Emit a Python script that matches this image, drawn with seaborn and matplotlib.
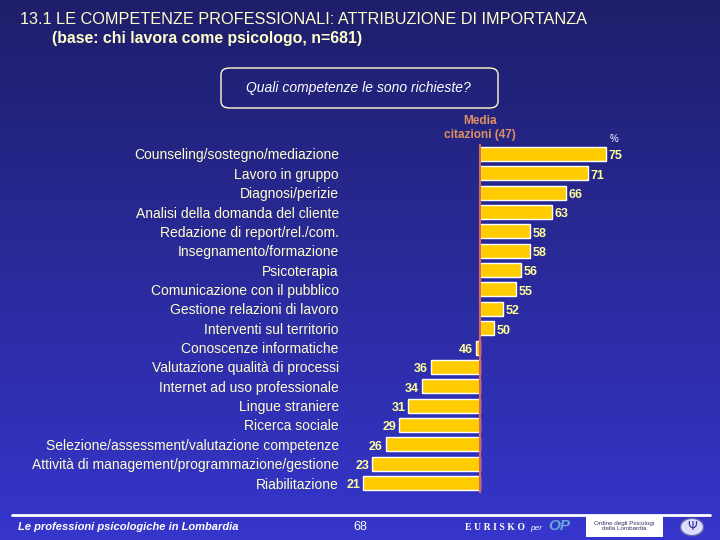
import numpy as np
import pandas as pd
import matplotlib
matplotlib.use("Agg")
import matplotlib.pyplot as plt
from matplotlib.patches import FancyBboxPatch, Rectangle, Circle
import seaborn as sns

# dati (% citazioni)
competenze = [
    "Counseling/sostegno/mediazione",
    "Lavoro in gruppo",
    "Diagnosi/perizie",
    "Analisi della domanda del cliente",
    "Redazione di report/rel./com.",
    "Insegnamento/formazione",
    "Psicoterapia",
    "Comunicazione con il pubblico",
    "Gestione relazioni di lavoro",
    "Interventi sul territorio",
    "Conoscenze informatiche",
    "Valutazione qualità di processi",
    "Internet ad uso professionale",
    "Lingue straniere",
    "Ricerca sociale",
    "Selezione/assessment/valutazione competenze",
    "Attività di management/programmazione/gestione",
    "Riabilitazione",
]
percentuali = [75, 71, 66, 63, 58, 58, 56, 55, 52, 50, 46, 36, 34, 31, 29, 26, 23, 21]
media = 47

TXT_YELLOW = "#ffffcc"
NUM_YELLOW = "#ffff99"
BAR_YELLOW = "#ffcc00"
MEDIA_COL = "#e09060"

sns.set_style("white")
plt.rcParams["font.family"] = ["Liberation Sans", "DejaVu Sans"]

W, H = 720, 540


def px(x, y):
    """pixel (dall'alto a sinistra) -> coordinate figura"""
    return x / W, 1 - y / H


fig = plt.figure(figsize=(7.2, 5.4), dpi=100)

# sfondo sfumato blu
bg = fig.add_axes([0, 0, 1, 1])
grad = np.linspace(0, 1, 256)[:, None, None]
top = np.array([0.12, 0.12, 0.42])
bottom = np.array([0.21, 0.21, 0.80])
img = top + (bottom - top) * grad
bg.imshow(img, aspect="auto", extent=[0, 1, 0, 1], origin="upper")
bg.set_axis_off()

# grafico a barre centrato sulla media
ax = fig.add_axes([336 / W, 1 - 492.7 / H, 292.5 / W, 348.4 / H])
ax.set_facecolor("none")
df = pd.DataFrame({"competenza": competenze,
                   "scarto": [p - media for p in percentuali]})
sns.barplot(data=df, x="scarto", y="competenza", orient="h", color=BAR_YELLOW,
            saturation=1, width=0.72, edgecolor="white", linewidth=1, ax=ax)
for p in ax.patches:
    p.set_x(p.get_x() + media)

ax.set_xlim(15, 80)
ax.set_ylim(len(competenze) - 0.5, -0.5)
ax.axvline(media, color="#d86a50", lw=1.5)

for i, v in enumerate(percentuali):
    if v >= media:
        ax.text(v + 0.6, i + 0.12, str(v), ha="left", va="center",
                fontsize=9, fontweight="bold", color=NUM_YELLOW)
    else:
        ax.text(v - 0.6, i + 0.12, str(v), ha="right", va="center",
                fontsize=9, fontweight="bold", color=NUM_YELLOW)

ax.set_xticks([])
ax.set_xlabel("")
ax.set_ylabel("")
ax.tick_params(axis="y", length=0, pad=-2, labelsize=10, labelcolor=TXT_YELLOW)
sns.despine(ax=ax, left=True, bottom=True)

# titoli
fig.text(*px(20, 19), "13.1 LE COMPETENZE PROFESSIONALI: ATTRIBUZIONE DI IMPORTANZA",
         fontsize=11.7, color=TXT_YELLOW, ha="left", va="center")
fig.text(*px(52, 39), "(base: chi lavora come psicologo, n=681)",
         fontsize=11.4, fontweight="bold", color=TXT_YELLOW, ha="left", va="center")

box = FancyBboxPatch(px(221, 108), 277 / W, 40 / H, transform=fig.transFigure,
                     boxstyle="round,pad=0,rounding_size=0.012",
                     facecolor="none", edgecolor=TXT_YELLOW, lw=1)
fig.patches.append(box)
fig.text(*px(358, 88), "Quali competenze le sono richieste?", fontsize=10,
         style="italic", color="white", ha="center", va="center")

fig.text(*px(480, 128), "Media\ncitazioni (47)", fontsize=8.5, fontweight="bold",
         color=MEDIA_COL, ha="center", va="center", linespacing=1.15)
fig.text(*px(614, 139), "%", fontsize=7, color="white", ha="center", va="center")

# piè di pagina
fig.add_artist(plt.Line2D([12 / W, 710 / W], [1 - 515 / H, 1 - 515 / H],
                          color="white", lw=2))
fig.text(*px(18, 527), "Le professioni psicologiche in Lombardia", fontsize=8,
         fontweight="bold", style="italic", color="white", ha="left", va="center")
fig.text(*px(360, 527), "68", fontsize=9, color="white", ha="center", va="center")
fig.text(*px(465, 527), "E U R I S K O", fontsize=7, fontweight="bold",
         family=["Liberation Serif", "DejaVu Serif"], color="white",
         ha="left", va="center")
fig.text(*px(530, 529), "per", fontsize=6, style="italic", color="white",
         ha="left", va="center")
fig.text(*px(559, 526), "OP", fontsize=11, fontweight="bold", style="italic",
         color="#66aadd", ha="center", va="center")
fig.patches.append(Rectangle(px(586, 537), 77 / W, 21 / H,
                             transform=fig.transFigure, facecolor="white",
                             edgecolor="none"))
fig.text(*px(624, 526), "Ordine degli Psicologi\ndella Lombardia", fontsize=4.5,
         color="#333366", ha="center", va="center", linespacing=1.2)
fig.patches.append(Circle(px(692, 527), 0.016, transform=fig.transFigure,
                          facecolor="#ddddff", edgecolor="#6666aa", lw=1))
fig.text(*px(692, 527), "Ψ", fontsize=9, color="#333399",
         family=["DejaVu Sans"], ha="center", va="center")

fig.savefig("out.png", dpi=100)
